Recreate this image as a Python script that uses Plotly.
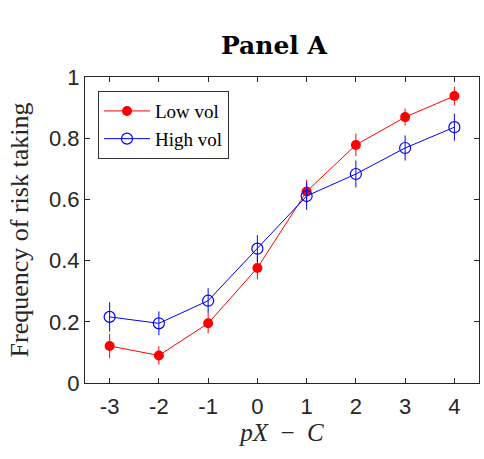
import plotly.graph_objects as go

x_vals = [-3, -2, -1, 0, 1, 2, 3, 4]
low_vol = [0.121, 0.090, 0.195, 0.376, 0.626, 0.778, 0.869, 0.938]
low_err = [0.040, 0.030, 0.033, 0.038, 0.038, 0.037, 0.028, 0.030]
high_vol = [0.216, 0.195, 0.269, 0.439, 0.611, 0.683, 0.768, 0.836]
high_err = [0.048, 0.039, 0.041, 0.044, 0.045, 0.044, 0.041, 0.044]
x_ticktext = ["-3", "-2", "-1", "0", "1", "2", "3", "4"]
y_tickvals = [0, 0.2, 0.4, 0.6, 0.8, 1]
y_ticktext = ["0", "0.2", "0.4", "0.6", "0.8", "1"]

serif = "Liberation Serif, Times New Roman, serif"
sans = "Liberation Sans, Arial, sans-serif"
axis_col = "#262626"

fig = go.Figure()
fig.add_trace(go.Scatter(
    x=x_vals, y=low_vol, name="Low vol", mode="lines+markers",
    line=dict(color="#ff0000", width=1),
    marker=dict(symbol="circle", size=10, color="#ff0000"),
    error_y=dict(type="data", array=low_err, color="#ff0000", thickness=1, width=0),
))
fig.add_trace(go.Scatter(
    x=x_vals, y=high_vol, name="High vol", mode="lines+markers",
    line=dict(color="#0000ff", width=1),
    marker=dict(symbol="circle-open", size=11, color="#0000ff", line=dict(width=1.2)),
    error_y=dict(type="data", array=high_err, color="#0000ff", thickness=1, width=0),
))

fig.update_layout(
    width=484, height=459,
    margin=dict(l=85, r=5, t=77, b=76),
    paper_bgcolor="white", plot_bgcolor="white",
    title=dict(text="<b>Panel A</b>", x=0.566, xanchor="center", y=0.902, yanchor="middle",
               font=dict(family="DejaVu Serif, serif", size=25, color="black")),
    legend=dict(x=0.033, y=0.954, xanchor="left", yanchor="top",
                bgcolor="white", bordercolor="#333333", borderwidth=1,
                font=dict(family=serif, size=19, color="black"),
                tracegroupgap=0, itemwidth=46),
    showlegend=True,
)
fig.update_xaxes(
    range=[-3.5, 4.5], tickvals=x_vals, ticktext=x_ticktext,
    showgrid=False, zeroline=False, showline=True, linecolor=axis_col, linewidth=1,
    mirror="ticks", ticks="inside", ticklen=5, tickcolor=axis_col,
    tickfont=dict(family=sans, size=22, color=axis_col), ticklabelstandoff=4,
    title=dict(text="<i>pX</i>\u2002\u2212\u2002<i>C</i>", font=dict(family=serif, size=25, color=axis_col), standoff=4),
)
fig.update_yaxes(
    range=[0, 1], tickvals=y_tickvals, ticktext=y_ticktext,
    showgrid=False, zeroline=False, showline=True, linecolor=axis_col, linewidth=1,
    mirror="ticks", ticks="inside", ticklen=5, tickcolor=axis_col,
    tickfont=dict(family=sans, size=22, color=axis_col), ticklabelstandoff=0,
    title=dict(text="Frequency of risk taking", font=dict(family=serif, size=26, color=axis_col), standoff=12),
)

fig.write_html("out.html")
